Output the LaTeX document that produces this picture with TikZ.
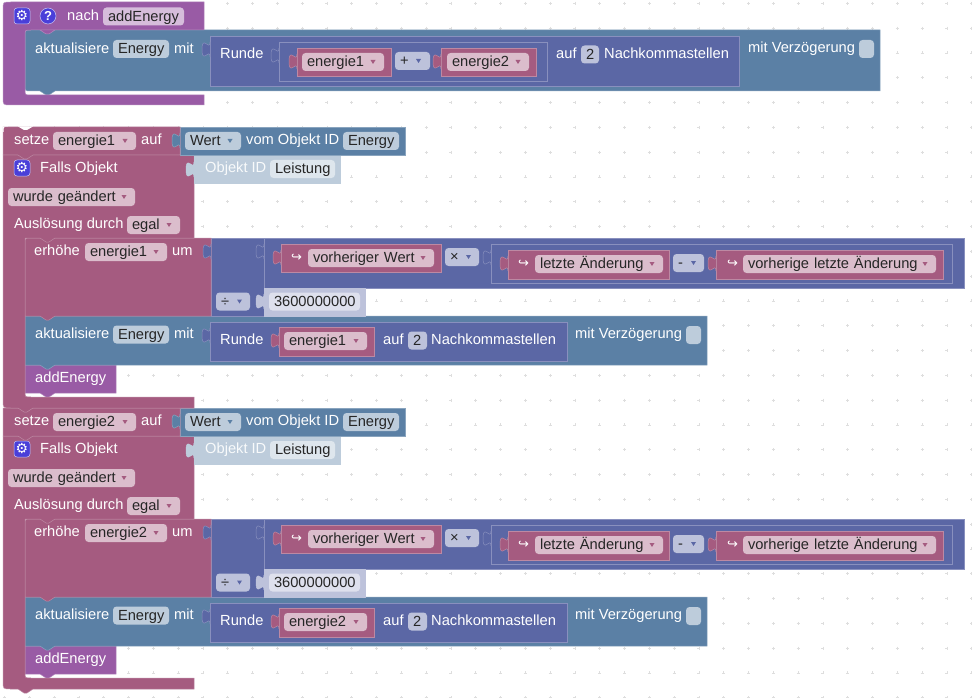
\documentclass[tikz,border=0pt]{standalone}
\usepackage{fontspec}
\setmainfont{Liberation Sans}
\newfontfamily\symfont{DejaVu Sans}
\definecolor{varcol}{HTML}{A55B80}
\definecolor{varline}{HTML}{BD89A3}
\definecolor{varfeld}{HTML}{DBBDCC}
\definecolor{mathcol}{HTML}{5B67A5}
\definecolor{mathline}{HTML}{8990BE}
\definecolor{mathfeld}{HTML}{BDC2DB}
\definecolor{iocol}{HTML}{5B80A5}
\definecolor{ioline}{HTML}{89A4BE}
\definecolor{iofeld}{HTML}{BDCCDB}
\definecolor{proccol}{HTML}{995BA5}
\definecolor{procline}{HTML}{B489BE}
\definecolor{procfeld}{HTML}{D6BDDB}
\definecolor{iconcol}{HTML}{4A3FD9}
\tikzset{
  varblock/.style={fill=varcol,draw=varline,line width=.5pt},
  mathblock/.style={fill=mathcol,draw=mathline,line width=.5pt},
  ioblock/.style={fill=iocol,draw=ioline,line width=.5pt},
  procblock/.style={fill=proccol,draw=procline,line width=.5pt},
  palemath/.style={fill=mathfeld,draw=mathfeld,line width=.5pt},
  paleio/.style={fill=iofeld,draw=iofeld,line width=.5pt},
  txt/.style={anchor=west,inner sep=0pt,yshift=-1pt,text=white,text height=10.5pt,text depth=3pt,
    font=\fontsize{14.67}{17}\selectfont},
  feld/.style={inner xsep=5pt,inner ysep=0pt,rounded corners=3.5pt,minimum height=18pt,align=left,
    text=black!85,text height=12.5pt,text depth=3pt,font=\fontsize{14.67}{17}\selectfont},
  dot/.style={draw=black!13,line width=.6pt},
  icon/.style={fill=iconcol,draw=white!70!iconcol,line width=.5pt,inner sep=0pt,text=white}
}
\newcommand{\stmtblock}[7]{%
  \filldraw[#1] ({#2+#6},#3) -- (#4,#3) -- (#4,#5) -- ({#2+30},#5) -- ({#2+24},{#5+4}) -- ({#2+21},{#5+4})
    -- ({#2+15},#5) -- ({#2+#7},#5) .. controls (#2,#5) and (#2,#5) .. (#2,{#5-#7})
    -- (#2,{#3+#6}) .. controls (#2,#3) and (#2,#3) .. ({#2+#6},#3) -- cycle;}
\newcommand{\valtab}[3]{%
  \filldraw[#1] (#2,#3) .. controls (#2,{#3+10}) and ({#2-8},{#3-8}) .. ({#2-8},{#3+7.5})
    .. controls ({#2-8},{#3+23}) and (#2,{#3+5}) .. (#2,{#3+15});}
\newcommand{\valblock}[5]{%
  \filldraw[#1] (#2,#3) rectangle (#4,#5);
  \valtab{#1}{#2}{#3+6}}
\newcommand{\feldbox}[7]{%
  \pgfmathsetmacro\fw{#5-#4-10}
  \node[feld,fill=#2,text width=\fw pt] (#3) at ({(#4+#5)/2},#6) {#7};}
\newcommand{\dropfeld}[8]{%
  \feldbox{#1}{#2}{#3}{#4}{#5}{#6}{#7}
  \fill[#8] ({#5-13.5},{#6-2}) -- ({#5-8.5},{#6-2}) -- ({#5-11},{#6+2}) -- cycle;}
\newcommand{\gearicon}[3]{%
  \node[icon,rounded corners=3pt,minimum size=16pt] (#1) at (#2,#3) {\symfont\fontsize{14}{14}\selectfont ⚙};}
\begin{document}
\begin{tikzpicture}[x=1pt,y=-1pt]
\useasboundingbox (0,0) rectangle (972,698);
\fill[white] (0,0) rectangle (972,698);
\foreach \i in {0,...,39}
  \foreach \j in {0,...,28}
    \draw[dot] ({4.5+24.8*\i-1.5},{3.3+24.8*\j}) -- ({4.5+24.8*\i+1.5},{3.3+24.8*\j})
      ({4.5+24.8*\i},{3.3+24.8*\j-1.5}) -- ({4.5+24.8*\i},{3.3+24.8*\j+1.5});

\stmtblock{ioblock}{25}{30}{880}{91}{6}{6}
\node[txt] (akt) at (35,48.5) {aktualisiere};
\feldbox{}{iofeld}{fenergy}{113}{169}{49}{Energy}
\node[txt] (mit) at (174,48.5) {mit};
\valblock{mathblock}{210}{36}{739}{86}
\node[txt] (runde) at (220,54) {Runde};
\valblock{mathblock}{279}{42}{547}{81}
\valblock{varblock}{297}{48}{391}{76}
\dropfeld{}{varfeld}{fa}{302}{384}{62}{energie1}{varcol}
\feldbox{}{mathfeld}{plus}{395}{430}{61}{+}
\fill[mathcol] (416,59) -- (421,59) -- (418.5,63) -- cycle;
\valblock{varblock}{441}{48}{536}{76}
\dropfeld{}{varfeld}{fb}{447}{529}{62}{energie2}{varcol}
\node[txt] (auf) at (556,54) {auf};
\feldbox{}{mathfeld}{stellen}{581}{599}{54.5}{2}
\node[txt] (nach) at (604,54) {Nachkommastellen};
\node[txt] (verz) at (748,48) {mit Verzögerung};
\node[rounded corners=3.5pt,fill=iofeld,minimum width=15pt,minimum height=18pt,inner sep=0pt] (chk) at (866.5,49) {};

\filldraw[procblock] (204,2) -- (11,2) .. controls (3,2) and (3,2) .. (3,10) -- (3,97) .. controls (3,105) and (3,105) .. (11,105)
  -- (204,105) -- (204,95) -- (31,95) .. controls (25,95) and (25,95) .. (25,89) -- (25,36)
  .. controls (25,30) and (25,30) .. (31,30) -- (55,30) -- (49,34) -- (46,34) -- (40,30) -- (204,30) -- cycle;
\gearicon{gearh}{22}{16}
\node[icon,circle,minimum size=16pt,font=\fontsize{13}{13}\selectfont\bfseries] (hilfe) at (48,16) {?};
\node[txt] (nachtxt) at (67,16) {nach};
\feldbox{}{procfeld}{fproc}{103}{184}{16.5}{addEnergy}

\foreach \n/\dy in {2/281,1/0}{
\begin{scope}[shift={(0,\dy)}]
  \stmtblock{procblock}{25}{365}{116}{393}{0}{0}
  \node[txt] (add\n) at (35,378) {addEnergy};

  \stmtblock{ioblock}{25}{316}{707}{365}{0}{0}
  \node[txt] (akt\n) at (35,334) {aktualisiere};
  \feldbox{}{iofeld}{fen\n}{113}{169}{334.5}{Energy}
  \node[txt] (mit\n) at (174,334) {mit};
  \valblock{mathblock}{210}{322}{567}{361}
  \node[txt] (runde\n) at (220,340) {Runde};
  \valblock{varblock}{279}{327}{374}{356}
  \dropfeld{}{varfeld}{fr\n}{284}{367}{341}{energie\n}{varcol}
  \node[txt] (auf\n) at (383,340) {auf};
  \feldbox{}{mathfeld}{st\n}{408}{427}{340.5}{2}
  \node[txt] (nach\n) at (431,340) {Nachkommastellen};
  \node[txt] (verz\n) at (575,334) {mit Verzögerung};
  \node[rounded corners=3.5pt,fill=iofeld,minimum width=15pt,minimum height=18pt,inner sep=0pt] (chk\n) at (693.5,335) {};

  \valblock{mathblock}{211}{238}{264}{316}
  \valblock{mathblock}{264}{238}{964}{288}
  \valblock{varblock}{281}{244}{441}{272}
  \node[txt] (pfa\n) at (291,257) {\symfont\fontsize{13}{13}\selectfont ↪};
  \dropfeld{}{varfeld}{fv\n}{308}{434}{258}{vorheriger Wert}{varcol}
  \feldbox{}{mathfeld}{mal\n}{445}{479}{257}{×}
  \fill[mathcol] (466,255) -- (471,255) -- (468.5,259) -- cycle;
  \valblock{mathblock}{491}{244}{952}{283}
  \valblock{varblock}{508}{250}{669}{279}
  \node[txt] (pfb\n) at (518,263) {\symfont\fontsize{13}{13}\selectfont ↪};
  \dropfeld{}{varfeld}{fl\n}{535}{663}{264}{letzte Änderung}{varcol}
  \feldbox{}{mathfeld}{minus\n}{673}{704}{263}{-}
  \fill[mathcol] (691,261) -- (696,261) -- (693.5,265) -- cycle;
  \valblock{varblock}{716}{250}{943}{279}
  \node[txt] (pfc\n) at (727,263) {\symfont\fontsize{13}{13}\selectfont ↪};
  \dropfeld{}{varfeld}{fp\n}{743}{936}{264}{vorherige letzte Änderung}{varcol}
  \feldbox{}{mathfeld}{durch\n}{216}{250}{301.5}{÷}
  \fill[mathcol] (237,299.5) -- (242,299.5) -- (239.5,303.5) -- cycle;
  \valblock{palemath}{264}{288}{365}{316}
  \feldbox{}{white!50!mathfeld}{zahl\n}{269}{360}{301.5}{3600000000}

  \stmtblock{varblock}{25}{238}{211}{316}{6}{0}
  \node[txt] (erh\n) at (34,251) {erhöhe};
  \dropfeld{}{varfeld}{fe\n}{85}{167}{252}{energie\n}{varcol}
  \node[txt] (um\n) at (172,251) {um};
  \valtab{mathblock}{211}{244}

  \filldraw[varblock] (194,155) -- (194,238) -- (55,238) -- (49,242) -- (46,242) -- (40,238) -- (25,238) -- (25,391)
    .. controls (25,397) and (25,397) .. (31,397) -- (194,397) -- (194,408) -- (33,408) -- (27,412) -- (24,412) -- (18,408)
    -- (11,408) .. controls (3,408) and (3,408) .. (3,400) -- (3,155) -- cycle;
  \gearicon{gear\n}{22}{168}
  \node[txt] (falls\n) at (40,168) {Falls Objekt};
  \dropfeld{}{varfeld}{fw\n}{8}{135}{197}{wurde geändert}{varcol}
  \node[txt] (ausl\n) at (14,224) {Auslösung durch};
  \dropfeld{}{varfeld}{feg\n}{127}{180}{225}{egal}{varcol}
  \valblock{paleio}{194}{156}{340}{183}
  \node[txt,text=white!90!iofeld] (obj\n) at (205,168) {Objekt ID};
  \feldbox{}{white!50!iofeld}{flei\n}{270}{335}{169}{Leistung}

  \valblock{ioblock}{180}{127}{405}{155}
  \dropfeld{}{iofeld}{fwert\n}{185}{241}{141}{Wert}{iocol}
  \node[txt] (vom\n) at (246,140) {vom Objekt ID};
  \feldbox{}{iofeld}{fid\n}{343}{399}{141}{Energy}
  \filldraw[varblock] (180,127) -- (180,155) -- (33,155) -- (27,159) -- (24,159) -- (18,155) -- (3,155) -- (3,127) -- cycle;
  \valtab{ioblock}{180}{133}
  \node[txt] (setze\n) at (14,140) {setze};
  \dropfeld{}{varfeld}{fs\n}{53}{136}{141}{energie\n}{varcol}
  \node[txt] (aufs\n) at (141,140) {auf};
\end{scope}
}
\fill[white] (18,126.5) -- (33,126.5) -- (27,130) -- (24,130) -- cycle;
\fill[white] (2.5,126.5) -- (8,126.5) .. controls (3.5,126.5) and (3.5,127) .. (3.5,132) -- (2.5,132) -- cycle;
\end{tikzpicture}
\end{document}
